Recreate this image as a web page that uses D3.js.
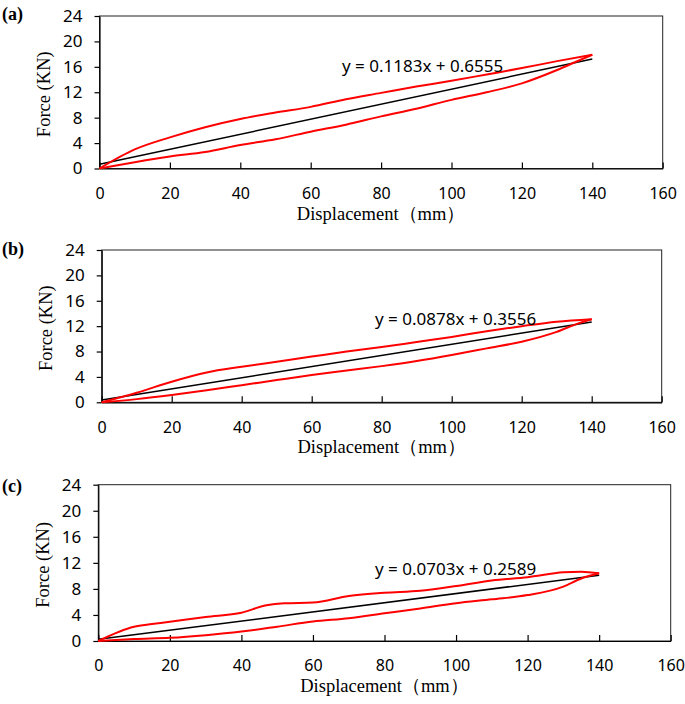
<!DOCTYPE html>
<html><head><meta charset="utf-8">
<script src="https://cdn.jsdelivr.net/npm/d3@7"></script>
<style>
html,body{margin:0;padding:0;background:#fff;}
svg{display:block;}
</style></head>
<body>
<svg id="chart" width="685" height="704"></svg>
<script>
// ---------- data ----------
const panelLabels = ["(a)", "(b)", "(c)"];
const xTicks = [0, 20, 40, 60, 80, 100, 120, 140, 160];
const yTicks = [0, 4, 8, 12, 16, 20, 24];
const xTitle = "Displacement（mm）";
const yTitle = "Force (KN)";

// loading branch (upper) and unloading branch (lower), x in mm, y in kN
const upperA_x = [0, 10, 20, 30, 40, 50, 60, 70, 80, 90, 100, 110, 120, 130, 140];
const upperA_y = [0, 3.0, 4.9, 6.5, 7.8, 8.8, 9.7, 10.9, 11.9, 12.9, 13.8, 14.8, 15.8, 16.9, 17.9];
const lowerA_x = [0, 10, 20, 30, 40, 50, 60, 70, 80, 90, 100, 110, 120, 130, 137, 140];
const lowerA_y = [0, 1.0, 1.9, 2.6, 3.7, 4.6, 5.8, 6.9, 8.2, 9.4, 10.8, 12.0, 13.4, 15.5, 17.2, 17.9];

const upperB_x = [0, 10, 20, 30, 40, 50, 60, 70, 80, 90, 100, 110, 120, 130, 140];
const upperB_y = [0, 1.5, 3.25, 4.7, 5.6, 6.4, 7.2, 8.0, 8.7, 9.5, 10.3, 11.2, 12.0, 12.7, 13.1];
const lowerB_x = [0, 10, 20, 30, 40, 50, 60, 70, 80, 90, 100, 110, 120, 130, 136, 140];
const lowerB_y = [0, 0.5, 1.15, 1.9, 2.7, 3.5, 4.3, 5.0, 5.7, 6.5, 7.45, 8.5, 9.55, 11.1, 12.4, 13.1];

const upperC_x = [0, 10, 15, 20, 30, 40, 47, 52, 60, 70, 80, 90, 100, 110, 120, 130, 135, 140];
const upperC_y = [0, 2.2, 2.6, 2.95, 3.7, 4.35, 5.5, 5.8, 5.9, 6.9, 7.4, 7.7, 8.45, 9.3, 9.8, 10.55, 10.65, 10.4];
const lowerC_x = [0, 10, 20, 30, 40, 50, 60, 70, 80, 90, 100, 110, 120, 130, 135, 140];
const lowerC_y = [0, 0.3, 0.5, 0.9, 1.45, 2.2, 3.0, 3.5, 4.25, 5.0, 5.8, 6.4, 7.05, 8.35, 9.6, 10.4];

// linear fits (slope, intercept) and fit range
const fitSlopes = [0.1183, 0.0878, 0.0703];
const fitIntercepts = [0.6555, 0.3556, 0.2589];
const fitRange = [0, 140];
const fitLabels = ["y = 0.1183x + 0.6555", "y = 0.0878x + 0.3556", "y = 0.0703x + 0.2589"];

// ---------- layout (pixels) ----------
const layout = [
  {left: 99.5, right: 662.7, top: 16, bottom: 168.5, labelY: 20, eqX: 342, eqY: 72},
  {left: 101.7, right: 661.7, top: 250, bottom: 402.3, labelY: 255, eqX: 375, eqY: 324.5},
  {left: 98.3, right: 670.7, top: 484.7, bottom: 641, labelY: 492, eqX: 375, eqY: 574.5}
];

const series = [
  {ux: upperA_x, uy: upperA_y, lx: lowerA_x, ly: lowerA_y},
  {ux: upperB_x, uy: upperB_y, lx: lowerB_x, ly: lowerB_y},
  {ux: upperC_x, uy: upperC_y, lx: lowerC_x, ly: lowerC_y}
];

const svg = d3.select("#chart");
const SANS = "'Noto Sans', 'Open Sans', sans-serif";
const SERIF = "'Liberation Serif', 'Times New Roman', serif";

layout.forEach((L, i) => {
  const x = d3.scaleLinear().domain([0, 160]).range([L.left, L.right]);
  const y = d3.scaleLinear().domain([0, 24]).range([L.bottom, L.top]);
  const g = svg.append("g");

  // frame
  g.append("rect").attr("x", L.left).attr("y", L.top)
    .attr("width", L.right - L.left).attr("height", L.bottom - L.top)
    .attr("fill", "none").attr("stroke", "#222").attr("stroke-width", 1);

  // x axis (inward ticks)
  const xa = g.append("g").attr("transform", `translate(0,${L.bottom})`)
    .call(d3.axisBottom(x).tickValues(xTicks).tickSizeInner(-6).tickSizeOuter(0).tickPadding(19));
  xa.select(".domain").attr("stroke", "#000").attr("stroke-width", 1.2);
  xa.selectAll(".tick line").attr("stroke", "#000").attr("stroke-width", 1.2);
  xa.selectAll("text").attr("font-family", SANS).attr("font-size", 16).attr("fill", "#000");

  // y axis (outward ticks)
  const ya = g.append("g").attr("transform", `translate(${L.left},0)`)
    .call(d3.axisLeft(y).tickValues(yTicks).tickSizeInner(5).tickSizeOuter(0).tickPadding(12));
  ya.select(".domain").attr("stroke", "#000").attr("stroke-width", 1.2);
  ya.selectAll(".tick line").attr("stroke", "#000").attr("stroke-width", 1.2);
  ya.selectAll("text").attr("font-family", SANS).attr("font-size", 17).attr("fill", "#000");

  // axis titles
  g.append("text").attr("transform", `translate(${L.left - 56},${(L.top + L.bottom) / 2 + 2}) rotate(-90)`)
    .attr("text-anchor", "middle").attr("dy", "0.35em")
    .attr("font-family", SERIF).attr("font-size", 18.5).text(yTitle);
  g.append("text").attr("x", (L.left + L.right) / 2).attr("y", L.bottom + 51)
    .attr("text-anchor", "middle")
    .attr("font-family", SERIF).attr("font-size", 18.5).text(xTitle);

  // panel label
  svg.append("text").attr("x", 2).attr("y", L.labelY)
    .attr("font-family", SERIF).attr("font-weight", "bold").attr("font-size", 18)
    .text(panelLabels[i]);

  const s = series[i];
  const line = d3.line().x(d => x(d[0])).y(d => y(d[1])).curve(d3.curveMonotoneX);
  const up = s.ux.map((v, k) => [v, s.uy[k]]);
  const lo = s.lx.map((v, k) => [v, s.ly[k]]);

  // fit line
  const fit = fitRange.map(v => [v, fitSlopes[i] * v + fitIntercepts[i]]);
  g.append("path").datum(fit).attr("d", d3.line().x(d => x(d[0])).y(d => y(d[1])))
    .attr("fill", "none").attr("stroke", "#000").attr("stroke-width", 1.5);

  [up, lo].forEach(d => {
    g.append("path").datum(d).attr("d", line)
      .attr("fill", "none").attr("stroke", "#ff0000").attr("stroke-width", 2)
      .attr("stroke-linejoin", "round");
  });

  // equation
  g.append("text").attr("x", L.eqX).attr("y", L.eqY)
    .attr("font-family", SANS).attr("font-size", 17).attr("fill", "#000")
    .text(fitLabels[i]);
});
</script>
</body></html>
